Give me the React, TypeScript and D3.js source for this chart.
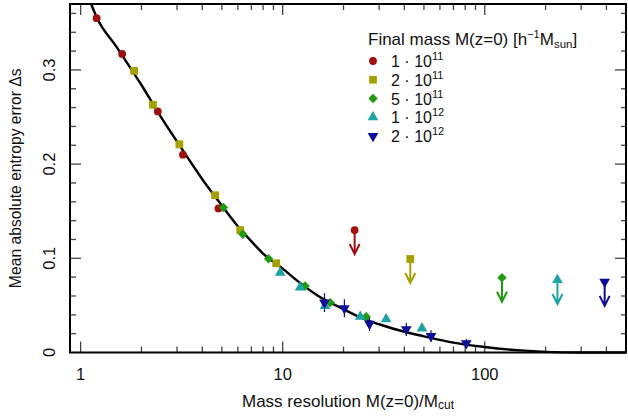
import * as d3 from 'd3';

// resolution M(z=0)/Mcut vs mean absolute entropy error, per final mass
const redPts = [[1.2, 0.355], [1.605, 0.317], [2.41, 0.256], [3.21, 0.21], [4.81, 0.153]];
const olivePts = [[1.84, 0.299], [2.28, 0.263], [3.08, 0.221], [4.63, 0.167], [6.16, 0.13], [9.29, 0.0947]];
const greenPts = [[5.09, 0.154], [6.35, 0.1255], [8.51, 0.0996], [12.9, 0.0706], [17.2, 0.0529], [25.9, 0.038]];
const cyanPts = [[9.72, 0.0847], [12.2, 0.0692], [16.2, 0.0494], [24.2, 0.038], [32.5, 0.0354], [48.9, 0.0257]];
// navy points: x, y, error
const navyPts = [[16.1, 0.053, 0.01], [20.2, 0.047, 0.0095], [26.9, 0.0303, 0.0075], [40.9, 0.0246, 0.007], [54.2, 0.0175, 0.006], [81, 0.0098, 0.0045]];

// upper limits (marker + downward arrow)
const limits = [
  { series: 0, x: 22.7, y: 0.13 },
  { series: 1, x: 42.8, y: 0.0993 },
  { series: 2, x: 121.7, y: 0.0794 },
  { series: 3, x: 229, y: 0.077 },
  { series: 4, x: 392, y: 0.075 },
];

// fit curve
const fitCurve = [
  [1.127, 0.37], [1.2, 0.356], [1.5, 0.325], [2, 0.284], [2.5, 0.25], [3, 0.224], [4, 0.184],
  [5, 0.156], [6, 0.134], [7, 0.118], [8, 0.105], [10, 0.089], [12, 0.075], [15, 0.06],
  [20, 0.046], [25, 0.036], [30, 0.03], [40, 0.022], [50, 0.0172], [70, 0.0105], [100, 0.0058],
  [150, 0.0022], [200, 0.0007], [300, 0.0], [500, 0.0],
];

const legendMant = ['1', '2', '5', '1', '2'];
const legendExp = ['11', '11', '11', '12', '12'];
const colors = ['#a00f0f', '#a3a000', '#1f9a12', '#1ea3a3', '#0c0c96'];
const shapes = ['circle', 'square', 'diamond', 'up', 'down'];

const xTickLabels = [1, 10, 100];
const yTickLabels = [0, 0.1, 0.2, 0.3];

const W = 628, H = 416;
const m = { left: 70, right: 626, top: 4, bottom: 352.5 };

const x = d3.scaleLog().domain([0.886, 500]).range([m.left, m.right]);
const y = d3.scaleLinear().domain([0, 0.37]).range([m.bottom, m.top]);

const font = '"Liberation Sans", Arial, Helvetica, sans-serif';

function symbolPath(shape: string) {
  if (shape === 'circle') return d3.symbol(d3.symbolCircle, 48)();
  if (shape === 'square') return d3.symbol(d3.symbolSquare, 60)();
  if (shape === 'diamond') return d3.symbol(d3.symbolSquare, 44)();
  return d3.symbol(d3.symbolTriangle, 50)();
}

function Marker({ cx, cy, i }: { cx: number; cy: number; i: number }) {
  const shape = shapes[i];
  let rot = 0;
  if (shape === 'diamond') rot = 45;
  if (shape === 'down') rot = 180;
  return (
    <path
      d={symbolPath(shape) as string}
      transform={`translate(${cx},${cy}) rotate(${rot})`}
      fill={colors[i]}
    />
  );
}

export default function App() {
  const series = [redPts, olivePts, greenPts, cyanPts, navyPts];

  const xMajor = [1, 10, 100];
  const xMinor: number[] = [];
  for (const d of [1, 10, 100]) for (let k = 2; k <= 9; k++) if (d * k <= 500) xMinor.push(d * k);
  const yMinor = d3.range(0, 0.37, 0.02).filter(v => Math.abs(Math.round(v * 10) - v * 10) > 1e-6);

  const line = d3.line<number[]>()
    .x(d => x(d[0]))
    .y(d => y(d[1]))
    .curve(d3.curveMonotoneX);

  return (
    <svg width={W} height={H} style={{ position: 'absolute', left: 0, top: 0, background: '#fff' }} fontFamily={font}>
      <rect width={W} height={H} fill="#fff" />

      {/* ticks, inward on all four sides */}
      <g stroke="#444" strokeWidth={1.3}>
        {xMajor.map(v => (
          <g key={'xM' + v}>
            <line x1={x(v)} x2={x(v)} y1={m.bottom} y2={m.bottom - 11} />
            <line x1={x(v)} x2={x(v)} y1={m.top} y2={m.top + 11} />
          </g>
        ))}
        {xMinor.map(v => (
          <g key={'xm' + v}>
            <line x1={x(v)} x2={x(v)} y1={m.bottom} y2={m.bottom - 6} />
            <line x1={x(v)} x2={x(v)} y1={m.top} y2={m.top + 6} />
          </g>
        ))}
        {yTickLabels.slice(1).map(v => (
          <g key={'yM' + v}>
            <line x1={m.left} x2={m.left + 11} y1={y(v)} y2={y(v)} />
            <line x1={m.right} x2={m.right - 11} y1={y(v)} y2={y(v)} />
          </g>
        ))}
        {yMinor.map(v => (
          <g key={'ym' + v}>
            <line x1={m.left} x2={m.left + 6} y1={y(v)} y2={y(v)} />
            <line x1={m.right} x2={m.right - 5} y1={y(v)} y2={y(v)} />
          </g>
        ))}
      </g>

      {/* fit curve */}
      <path d={line(fitCurve) as string} fill="none" stroke="#000" strokeWidth={2.4} />

      {/* error bars for the 2e12 series */}
      <g stroke={colors[4]} strokeWidth={1.2}>
        {navyPts.map((d, k) => (
          <line key={k} x1={x(d[0])} x2={x(d[0])} y1={y(d[1] - d[2])} y2={y(d[1] + d[2])} />
        ))}
      </g>

      {/* data points */}
      {series.map((pts, i) => (
        <g key={i}>
          {pts.map((d, k) => (
            <Marker key={k} cx={x(d[0])} cy={y(d[1])} i={i} />
          ))}
        </g>
      ))}

      {/* upper limits */}
      {limits.map((l, k) => {
        const cx = x(l.x);
        const cy = y(l.y);
        const tip = cy + 24;
        return (
          <g key={k}>
            <path
              d={`M${cx},${cy}V${tip}M${cx - 5},${tip - 10}L${cx},${tip}L${cx + 5},${tip - 10}`}
              fill="none"
              stroke={colors[l.series]}
              strokeWidth={2}
            />
            <Marker cx={cx} cy={cy} i={l.series} />
          </g>
        );
      })}

      {/* frame */}
      <rect x={m.left} y={m.top} width={m.right - m.left} height={m.bottom - m.top} fill="none" stroke="#000" strokeWidth={2} />

      {/* tick labels */}
      <g fontSize={16.5} fill="#111">
        {xTickLabels.map(v => (
          <text key={v} x={x(v)} y={380} textAnchor="middle">{v}</text>
        ))}
        {yTickLabels.map(v => (
          <text key={v} transform={`translate(55,${y(v)}) rotate(-90)`} textAnchor="middle">{v}</text>
        ))}
      </g>

      {/* axis titles */}
      <text x={(m.left + m.right) / 2} y={407} textAnchor="middle" fontSize={17} fill="#111">
        Mass resolution M(z=0)/M<tspan fontSize={12} dy={2}>cut</tspan>
      </text>
      <text transform={`translate(20.5,${(m.top + m.bottom) / 2}) rotate(-90)`} textAnchor="middle" fontSize={15.7} fill="#111">
        Mean absolute entropy error Δs
      </text>

      {/* legend */}
      <g fill="#111">
        <text x={368} y={45} fontSize={17}>
          Final mass M(z=0) [h<tspan fontSize={11} dy={-7}>−1</tspan>
          <tspan dy={7}>M</tspan><tspan fontSize={11.5} dy={3}>sun</tspan><tspan dy={-3}>]</tspan>
        </text>
        {legendMant.map((mant, i) => {
          const ry = 61 + i * 18.75;
          return (
            <g key={i}>
              <Marker cx={373} cy={ry} i={i} />
              <text x={391} y={ry + 6} fontSize={16}>
                {mant} · 10<tspan fontSize={11} dy={-7}>{legendExp[i]}</tspan>
              </text>
            </g>
          );
        })}
      </g>
    </svg>
  );
}
